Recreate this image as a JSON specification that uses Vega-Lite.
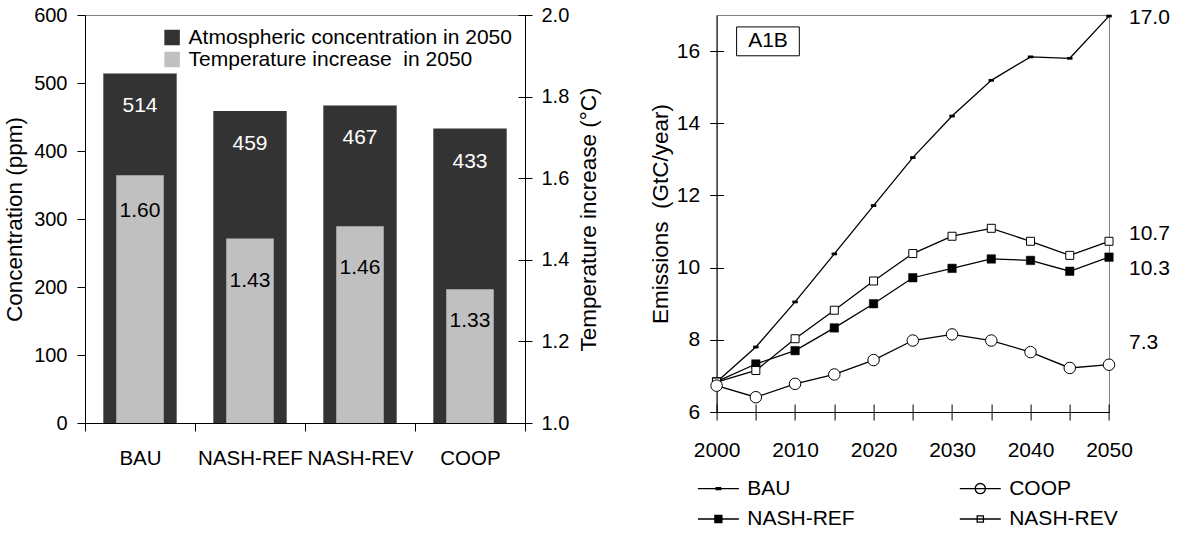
{
  "$schema": "https://vega.github.io/schema/vega-lite/v6.json",
  "padding": {"left": 2, "top": 4, "right": 5, "bottom": 5},
  "spacing": 47.6,
  "background": "white",
  "config": {
    "font": "Liberation Sans",
    "view": {"stroke": "#808080", "strokeWidth": 1},
    "axis": {
      "domainColor": "#000000", "tickColor": "#000000", "labelColor": "#000000", "titleColor": "#000000",
      "grid": false, "labelFont": "Liberation Sans", "labelFontSize": 20,
      "titleFont": "Liberation Sans", "titleFontSize": 22.5, "titleFontWeight": "normal",
      "domainWidth": 1, "tickWidth": 1
    },
    "legend": {"labelFont": "Liberation Sans", "labelFontSize": 21, "labelColor": "#000000", "labelLimit": 500},
    "text": {"font": "Liberation Sans", "fontSize": 21}
  },
  "hconcat": [
    {
      "width": 440,
      "height": 408,
      "data": {"values": [
        {"scenario": "BAU", "concentration": 514, "temperature": 1.607, "temperatureLabel": 1.60},
        {"scenario": "NASH-REF", "concentration": 459, "temperature": 1.452, "temperatureLabel": 1.43},
        {"scenario": "NASH-REV", "concentration": 467, "temperature": 1.482, "temperatureLabel": 1.46},
        {"scenario": "COOP", "concentration": 433, "temperature": 1.328, "temperatureLabel": 1.33}
      ]},
      "encoding": {
        "x": {
          "field": "scenario", "type": "nominal", "sort": null,
          "scale": {"paddingInner": 0, "paddingOuter": 0},
          "axis": {"title": null, "labelAngle": 0, "tickBand": "extent", "tickSize": 8, "labelPadding": 17, "labelBaseline": "top", "labelFontSize": 20.5}
        }
      },
      "layer": [
        {
          "layer": [
            {
              "mark": {"type": "bar", "width": {"band": 0.667}},
              "encoding": {
                "y": {
                  "field": "concentration", "type": "quantitative",
                  "scale": {"domain": [0, 600], "nice": false},
                  "axis": {"orient": "left", "title": "Concentration (ppm)", "values": [0, 100, 200, 300, 400, 500, 600], "tickSize": 8, "labelPadding": 10, "titlePadding": 7.2}
                },
                "color": {
                  "datum": "Atmospheric concentration in 2050", "type": "nominal",
                  "scale": {"domain": ["Atmospheric concentration in 2050", "Temperature increase\u00a0 in 2050"], "range": ["#333333", "#c0c0c0"]},
                  "legend": {"orient": "none", "legendX": 76.6, "legendY": 12, "title": null, "symbolType": "square", "symbolSize": 240, "symbolStrokeWidth": 0, "labelOffset": 6, "rowPadding": 0, "padding": 0}
                }
              }
            },
            {
              "mark": {"type": "text", "color": "white", "dy": 33, "baseline": "middle"},
              "encoding": {
                "y": {"field": "concentration", "type": "quantitative"},
                "text": {"field": "concentration", "type": "quantitative", "format": "d"}
              }
            }
          ]
        },
        {
          "layer": [
            {
              "mark": {"type": "bar", "width": {"band": 0.432}},
              "encoding": {
                "y": {
                  "field": "temperature", "type": "quantitative",
                  "scale": {"domain": [1, 2], "nice": false, "zero": false},
                  "axis": {"orient": "right", "title": "Temperature increase (°C)", "values": [1, 1.2, 1.4, 1.6, 1.8, 2], "format": ".1f", "tickSize": 7, "labelPadding": 9, "titlePadding": 9, "titleAngle": 270, "titleBaseline": "top"}
                },
                "y2": {"datum": 1},
                "color": {"datum": "Temperature increase\u00a0 in 2050", "type": "nominal"}
              }
            },
            {
              "mark": {"type": "text", "color": "black", "dy": 33, "baseline": "middle"},
              "encoding": {
                "y": {
                  "field": "temperatureLabel", "type": "quantitative",
                  "axis": {"orient": "right", "values": [1, 1.2, 1.4, 1.6, 1.8, 2], "offset": -7, "tickSize": 7, "domain": false, "labels": false, "title": null}
                },
                "text": {"field": "temperatureLabel", "type": "quantitative", "format": ".2f"}
              }
            }
          ],
          "resolve": {"axis": {"y": "independent"}}
        }
      ],
      "resolve": {"scale": {"y": "independent"}, "axis": {"y": "independent"}}
    },
    {
      "width": 392.4,
      "height": 397,
      "data": {"values": [
        {"series": "BAU", "year": 2000, "emissions": 6.83},
        {"series": "BAU", "year": 2005, "emissions": 7.80},
        {"series": "BAU", "year": 2010, "emissions": 9.05},
        {"series": "BAU", "year": 2015, "emissions": 10.38},
        {"series": "BAU", "year": 2020, "emissions": 11.72},
        {"series": "BAU", "year": 2025, "emissions": 13.05},
        {"series": "BAU", "year": 2030, "emissions": 14.20},
        {"series": "BAU", "year": 2035, "emissions": 15.19},
        {"series": "BAU", "year": 2040, "emissions": 15.84},
        {"series": "BAU", "year": 2045, "emissions": 15.80},
        {"series": "BAU", "year": 2050, "emissions": 16.97},
        {"series": "NASH-REF", "year": 2000, "emissions": 6.84},
        {"series": "NASH-REF", "year": 2005, "emissions": 7.33},
        {"series": "NASH-REF", "year": 2010, "emissions": 7.70},
        {"series": "NASH-REF", "year": 2015, "emissions": 8.33},
        {"series": "NASH-REF", "year": 2020, "emissions": 9.00},
        {"series": "NASH-REF", "year": 2025, "emissions": 9.72},
        {"series": "NASH-REF", "year": 2030, "emissions": 9.98},
        {"series": "NASH-REF", "year": 2035, "emissions": 10.24},
        {"series": "NASH-REF", "year": 2040, "emissions": 10.20},
        {"series": "NASH-REF", "year": 2045, "emissions": 9.90},
        {"series": "NASH-REF", "year": 2050, "emissions": 10.29},
        {"series": "NASH-REV", "year": 2000, "emissions": 6.83},
        {"series": "NASH-REV", "year": 2005, "emissions": 7.15},
        {"series": "NASH-REV", "year": 2010, "emissions": 8.03},
        {"series": "NASH-REV", "year": 2015, "emissions": 8.82},
        {"series": "NASH-REV", "year": 2020, "emissions": 9.63},
        {"series": "NASH-REV", "year": 2025, "emissions": 10.39},
        {"series": "NASH-REV", "year": 2030, "emissions": 10.87},
        {"series": "NASH-REV", "year": 2035, "emissions": 11.09},
        {"series": "NASH-REV", "year": 2040, "emissions": 10.73},
        {"series": "NASH-REV", "year": 2045, "emissions": 10.34},
        {"series": "NASH-REV", "year": 2050, "emissions": 10.73},
        {"series": "COOP", "year": 2000, "emissions": 6.73},
        {"series": "COOP", "year": 2005, "emissions": 6.41},
        {"series": "COOP", "year": 2010, "emissions": 6.78},
        {"series": "COOP", "year": 2015, "emissions": 7.04},
        {"series": "COOP", "year": 2020, "emissions": 7.44},
        {"series": "COOP", "year": 2025, "emissions": 7.98},
        {"series": "COOP", "year": 2030, "emissions": 8.15},
        {"series": "COOP", "year": 2035, "emissions": 7.98},
        {"series": "COOP", "year": 2040, "emissions": 7.66},
        {"series": "COOP", "year": 2045, "emissions": 7.22},
        {"series": "COOP", "year": 2050, "emissions": 7.31}
      ]},
      "layer": [
        {
          "mark": {"type": "line", "color": "black", "strokeWidth": 1.3},
          "encoding": {
            "x": {
              "field": "year", "type": "quantitative",
              "scale": {"domain": [2000, 2050], "nice": false, "zero": false},
              "axis": {"orient": "bottom", "values": [2000, 2005, 2010, 2015, 2020, 2025, 2030, 2035, 2040, 2045, 2050], "format": "d", "labelExpr": "datum.value % 10 === 0 ? datum.label : ''", "tickSize": 8, "labelPadding": 19, "labelBaseline": "top", "labelFontSize": 21, "title": null, "labelFlush": false, "labelOverlap": false}
            },
            "y": {
              "field": "emissions", "type": "quantitative",
              "scale": {"domain": [6, 17], "nice": false, "zero": false},
              "axis": {"orient": "left", "values": [6, 8, 10, 12, 14, 16], "tickSize": 7, "labelPadding": 10, "labelFontSize": 21, "title": "Emissions\u00a0 (GtC/year)", "titlePadding": 4}
            },
            "detail": {"field": "series", "type": "nominal"}
          }
        },
        {
          "transform": [{"filter": "datum.series === 'BAU'"}],
          "mark": {"type": "point", "shape": "M-1,-0.5H1V0.5H-1Z", "filled": true, "fill": "black", "strokeWidth": 0, "size": 30, "opacity": 1},
          "encoding": {
            "x": {"field": "year", "type": "quantitative", "axis": {"orient": "bottom", "values": [2000, 2005, 2010, 2015, 2020, 2025, 2030, 2035, 2040, 2045, 2050], "offset": -8, "tickSize": 8, "domain": false, "labels": false, "title": null}},
            "y": {"field": "emissions", "type": "quantitative", "axis": {"orient": "left", "values": [6, 8, 10, 12, 14, 16], "offset": -7, "tickSize": 7, "domain": false, "labels": false, "title": null}}
          }
        },
        {
          "transform": [{"filter": "datum.series === 'NASH-REF'"}],
          "mark": {"type": "point", "shape": "square", "filled": true, "fill": "black", "stroke": "black", "strokeWidth": 0.5, "size": 72, "opacity": 1},
          "encoding": {
            "x": {"field": "year", "type": "quantitative", "axis": null},
            "y": {"field": "emissions", "type": "quantitative", "axis": null}
          }
        },
        {
          "transform": [{"filter": "datum.series === 'NASH-REV'"}],
          "mark": {"type": "point", "shape": "square", "filled": true, "fill": "white", "stroke": "black", "strokeWidth": 1, "size": 64, "opacity": 1},
          "encoding": {
            "x": {"field": "year", "type": "quantitative", "axis": null},
            "y": {"field": "emissions", "type": "quantitative", "axis": null}
          }
        },
        {
          "transform": [{"filter": "datum.series === 'COOP'"}],
          "mark": {"type": "point", "shape": "circle", "filled": true, "fill": "white", "stroke": "black", "strokeWidth": 1, "size": 132, "opacity": 1},
          "encoding": {
            "x": {"field": "year", "type": "quantitative", "axis": null},
            "y": {"field": "emissions", "type": "quantitative", "axis": null}
          }
        },
        {
          "mark": {"type": "point", "opacity": 0, "stroke": "black", "strokeWidth": 1.3},
          "encoding": {
            "x": {"field": "year", "type": "quantitative", "axis": null},
            "y": {"field": "emissions", "type": "quantitative", "axis": null},
            "shape": {
              "field": "series", "type": "nominal",
              "scale": {"domain": ["BAU", "NASH-REF", "COOP", "NASH-REV"], "range": [
                "M-2.05,0H2.05M-0.225,-0.092H0.225V0.092H-0.225Z",
                "M-2.05,0H2.05M-0.35,-0.35H0.35V0.35H-0.35Z",
                "M-2.05,0H2.05M-0.51,0A0.51,0.51,0,1,0,0.51,0A0.51,0.51,0,1,0,-0.51,0Z",
                "M-2.05,0H2.05M-0.31,-0.31H0.31V0.31H-0.31Z"
              ]},
              "legend": {"orient": "none", "legendX": 622.4, "legendY": 462.6, "title": null, "columns": 2, "columnPadding": 100.9, "rowPadding": 9.4, "symbolSize": 400, "labelOffset": 17.9, "labelFontSize": 21, "symbolStrokeColor": "black", "symbolStrokeWidth": 1.3, "padding": 0, "encode": {"symbols": {"update": {"opacity": {"value": 1}, "stroke": {"value": "black"}}}}}
            },
            "fill": {
              "field": "series", "type": "nominal",
              "scale": {"domain": ["BAU", "NASH-REF", "COOP", "NASH-REV"], "range": ["black", "black", "white", "white"]},
              "legend": {"orient": "none", "legendX": 622.4, "legendY": 462.6, "title": null, "columns": 2, "columnPadding": 100.9, "rowPadding": 9.4, "symbolSize": 400, "labelOffset": 17.9, "labelFontSize": 21, "symbolStrokeColor": "black", "symbolStrokeWidth": 1.3, "padding": 0, "encode": {"symbols": {"update": {"opacity": {"value": 1}, "stroke": {"value": "black"}}}}}
            }
          }
        },
        {
          "transform": [{"filter": "datum.year === 2050 && datum.series === 'BAU'"}],
          "mark": {"type": "text", "align": "left", "baseline": "middle", "dx": 20, "dy": 1.5},
          "encoding": {
            "x": {"field": "year", "type": "quantitative", "axis": null},
            "y": {"field": "emissions", "type": "quantitative", "axis": null},
            "text": {"field": "emissions", "type": "quantitative", "format": ".1f"}
          }
        },
        {
          "transform": [{"filter": "datum.year === 2050 && datum.series === 'NASH-REV'"}],
          "mark": {"type": "text", "align": "left", "baseline": "middle", "dx": 20, "dy": -7},
          "encoding": {
            "x": {"field": "year", "type": "quantitative", "axis": null},
            "y": {"field": "emissions", "type": "quantitative", "axis": null},
            "text": {"field": "emissions", "type": "quantitative", "format": ".1f"}
          }
        },
        {
          "transform": [{"filter": "datum.year === 2050 && datum.series === 'NASH-REF'"}],
          "mark": {"type": "text", "align": "left", "baseline": "middle", "dx": 20, "dy": 12},
          "encoding": {
            "x": {"field": "year", "type": "quantitative", "axis": null},
            "y": {"field": "emissions", "type": "quantitative", "axis": null},
            "text": {"field": "emissions", "type": "quantitative", "format": ".1f"}
          }
        },
        {
          "transform": [{"filter": "datum.year === 2050 && datum.series === 'COOP'"}],
          "mark": {"type": "text", "align": "left", "baseline": "middle", "dx": 20, "dy": -22},
          "encoding": {
            "x": {"field": "year", "type": "quantitative", "axis": null},
            "y": {"field": "emissions", "type": "quantitative", "axis": null},
            "text": {"field": "emissions", "type": "quantitative", "format": ".1f"}
          }
        },
        {
          "data": {"values": [{"label": "A1B"}]},
          "mark": {"type": "rect", "fill": "white", "stroke": "black", "strokeWidth": 1},
          "encoding": {
            "x": {"datum": 2002.55, "type": "quantitative", "axis": null},
            "x2": {"datum": 2010.54},
            "y": {"datum": 16.67, "type": "quantitative", "axis": null},
            "y2": {"datum": 15.87}
          }
        },
        {
          "data": {"values": [{"label": "A1B"}]},
          "mark": {"type": "text", "align": "center", "baseline": "middle", "fontSize": 21},
          "encoding": {
            "x": {"datum": 2006.55, "type": "quantitative", "axis": null},
            "y": {"datum": 16.27, "type": "quantitative", "axis": null},
            "text": {"field": "label", "type": "nominal"}
          }
        }
      ],
      "resolve": {"axis": {"x": "independent", "y": "independent"}}
    }
  ]
}
